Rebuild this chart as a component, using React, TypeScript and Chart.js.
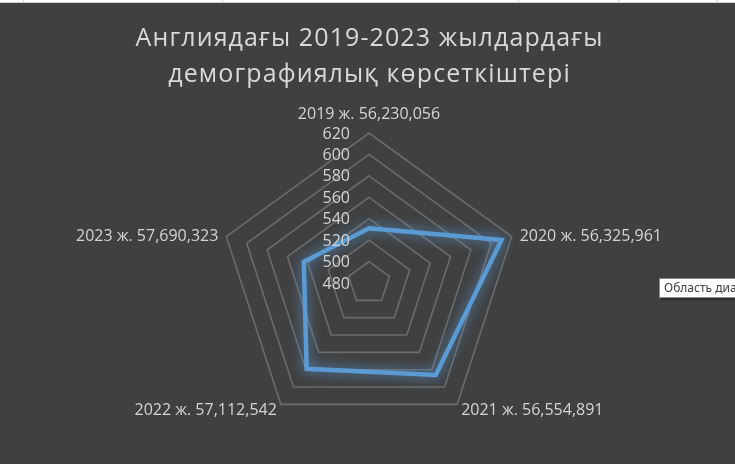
import React, { useEffect, useRef } from 'react';
import { Chart, registerables } from 'chart.js';

Chart.register(...registerables);

const titleLines = ['Англиядағы 2019-2023 жылдардағы', 'демографиялық көрсеткіштері'];
const categories = [
  '2019 ж. 56,230,056',
  '2020 ж. 56,325,961',
  '2021 ж. 56,554,891',
  '2022 ж. 57,112,542',
  '2023 ж. 57,690,323',
];
const seriesValues = [531, 610, 586, 579, 544];
const tickValues = [480, 500, 520, 540, 560, 580, 600, 620];
const axisMin = 480;
const axisMax = 620;
const axisStep = 20;

const FONT = '"Open Sans", "Noto Sans", sans-serif';
const TEXT_COLOR = '#d4d4d4';
const LINE_COLOR = '#5b9bd5';

const spacingPlugin = {
  id: 'titleSpacing',
  beforeDraw(chart: any) {
    (chart.ctx as any).letterSpacing = '1.1px';
  },
  beforeDatasetsDraw(chart: any) {
    (chart.ctx as any).letterSpacing = '0px';
  },
};

const glowPlugin = {
  id: 'glow',
  beforeDatasetDraw(chart: any) {
    const ctx = chart.ctx;
    ctx.save();
    ctx.shadowColor = 'rgba(91,155,213,1)';
    ctx.shadowBlur = 13;
    ctx.shadowOffsetX = 0;
    ctx.shadowOffsetY = 0;
  },
  afterDatasetDraw(chart: any) {
    chart.ctx.restore();
  },
};

const labelPlugin = {
  id: 'axisLabels',
  afterDatasetsDraw(chart: any) {
    const scale = chart.scales.r;
    const ctx = chart.ctx;
    ctx.save();
    (ctx as any).letterSpacing = '0px';
    ctx.font = `16px ${FONT}`;
    ctx.fillStyle = TEXT_COLOR;
    // radial tick labels, to the left of the vertical axis
    ctx.textAlign = 'right';
    ctx.textBaseline = 'middle';
    tickValues.forEach((v) => {
      const d = scale.getDistanceFromCenterForValue(v);
      ctx.fillText(String(v), scale.xCenter - 19, scale.yCenter - d + 1);
    });
    // category labels around the web
    categories.forEach((label, i) => {
      const p = scale.getPointPosition(i, scale.drawingArea);
      const c = Math.cos(p.angle);
      const s = Math.sin(p.angle);
      let x = p.x;
      let y = p.y;
      if (Math.abs(c) < 0.1) {
        ctx.textAlign = 'center';
        y = p.y - 19;
      } else if (c > 0) {
        ctx.textAlign = 'left';
        x = p.x + (s > 0.5 ? 4 : 8);
        y = p.y + (s > 0.5 ? 6 : 0);
      } else {
        ctx.textAlign = 'right';
        x = p.x - (s > 0.5 ? 4 : 8);
        y = p.y + (s > 0.5 ? 6 : 0);
      }
      ctx.textBaseline = 'middle';
      ctx.fillText(label, x, y);
    });
    ctx.restore();
  },
};

function RadarChart() {
  const ref = useRef<HTMLCanvasElement | null>(null);
  useEffect(() => {
    if (!ref.current) return;
    const chart = new Chart(ref.current, {
      type: 'radar',
      data: {
        labels: categories,
        datasets: [
          {
            data: seriesValues,
            borderColor: LINE_COLOR,
            backgroundColor: 'rgba(0,0,0,0)',
            borderWidth: 4.5,
            borderJoinStyle: 'miter',
            pointRadius: 0,
            pointHoverRadius: 0,
            fill: false,
            tension: 0,
          },
        ],
      },
      options: {
        responsive: false,
        animation: false,
        events: [],
        layout: { padding: { left: 4, right: 0, top: 21.25, bottom: 30 } },
        plugins: {
          legend: { display: false },
          tooltip: { enabled: false },
          title: {
            display: true,
            text: titleLines,
            color: '#d9d9d9',
            font: { family: FONT, size: 25, weight: 'normal', lineHeight: 1.42 },
            padding: { top: 0, bottom: 40.75 },
          },
        },
        scales: {
          r: {
            min: axisMin,
            max: axisMax,
            ticks: { stepSize: axisStep, display: false },
            grid: { color: '#6b6b6b', lineWidth: 1.6, circular: false },
            angleLines: { display: false },
            pointLabels: { display: false },
          },
        },
      },
      plugins: [spacingPlugin, glowPlugin, labelPlugin],
    } as any);
    return () => chart.destroy();
  }, []);
  return <canvas ref={ref} width={735} height={464} style={{ display: 'block' }} />;
}

export default function App() {
  const colLines = [23, 222, 518, 618, 717];
  return (
    <div
      style={{
        position: 'fixed',
        left: 0,
        top: 0,
        width: 735,
        height: 464,
        background: '#404040',
        overflow: 'hidden',
      }}
    >
      <RadarChart />
      <div style={{ position: 'absolute', left: 0, top: 0, width: 735, height: 2, background: '#ffffff' }} />
      <div style={{ position: 'absolute', left: 0, top: 2, width: 735, height: 1, background: '#d0d0d0' }} />
      {colLines.map((x) => (
        <div key={x} style={{ position: 'absolute', left: x, top: 0, width: 1, height: 2, background: '#d0d0d0' }} />
      ))}
      <div
        style={{
          position: 'absolute',
          left: 659,
          top: 278,
          height: 18,
          padding: '0 4px',
          background: '#ffffff',
          border: '1px solid #8a8a8a',
          boxShadow: '2px 2px 2px rgba(0,0,0,0.35)',
          font: '12px "Noto Sans", sans-serif',
          lineHeight: '18px',
          color: '#404040',
          whiteSpace: 'nowrap',
        }}
      >
        Область диаграммы
      </div>
    </div>
  );
}
